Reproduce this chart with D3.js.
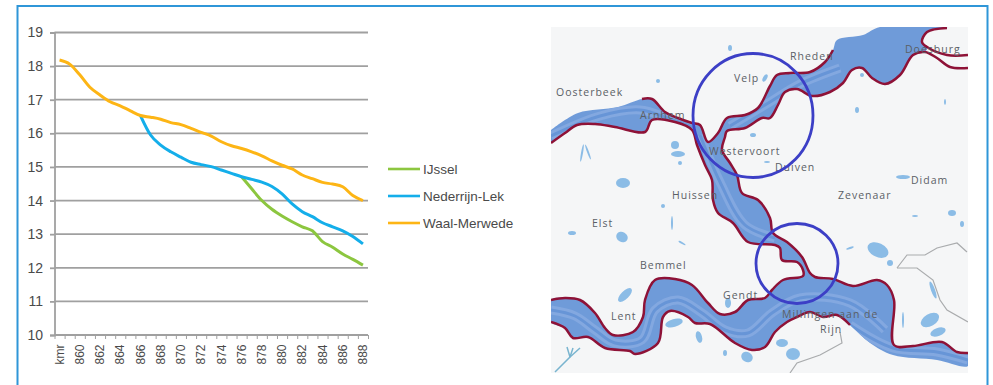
<!DOCTYPE html>
<html>
<head>
<meta charset="utf-8">
<script src="https://d3js.org/d3.v7.min.js"></script>
<style>
html, body { margin: 0; padding: 0; background: #fff; overflow: hidden; }
svg { display: block; }
</style>
</head>
<body>
<div id="chart"></div>
<script>
// Line chart values (one value per km from 858 = "kmr")
var kms = d3.range(858, 889);
var yTicks = [10, 11, 12, 13, 14, 15, 16, 17, 18, 19];
var seriesNames = ["IJssel", "Nederrijn-Lek", "Waal-Merwede"];
var seriesColors = ["#8cc63f", "#14aeea", "#fdb515"];

var waal = [18.18, 18.06, 17.74, 17.37, 17.14, 16.94, 16.82, 16.67, 16.53, 16.48, 16.42,
    16.32, 16.26, 16.15, 16.03, 15.92, 15.75, 15.63, 15.55, 15.45, 15.33, 15.18, 15.05,
    14.94, 14.76, 14.65, 14.54, 14.49, 14.41, 14.15, 14.0];
// starts at km 866
var lek = [16.53, 15.95, 15.65, 15.45, 15.29, 15.14, 15.07, 15.01, 14.91, 14.81, 14.71,
    14.63, 14.55, 14.42, 14.2, 13.9, 13.67, 13.52, 13.34, 13.22, 13.1, 12.93, 12.71];
// starts at km 876
var ijssel = [14.71, 14.35, 14.0, 13.74, 13.54, 13.37, 13.22, 13.1, 12.78, 12.61, 12.41, 12.25, 12.08];

// Map shapes in its own coordinates
var waterWest = [[551, 130], [578, 113], [618, 107]];
var dikeNorth = [[642, 99], [652, 99], [665, 112], [678, 118], [692, 123], [700, 125], [708, 142],
    [718, 133], [727, 118], [745, 115], [758, 108], [770, 86], [777, 75], [790, 73], [810, 72],
    [825, 62], [833, 50]];
var waterTop = [[837, 40], [863, 35], [880, 27], [947, 27]];
var dikeDoesburg = [[947, 28], [927, 32], [922, 42], [927, 47], [947, 55], [968, 55]];
var dikeSouth = [[968, 68], [950, 67], [937, 58], [925, 52], [913, 55], [900, 75], [885, 84], [872, 78],
    [862, 68], [852, 70], [843, 83], [830, 92], [812, 96], [797, 89], [785, 92], [778, 105], [770, 118],
    [762, 118], [745, 128], [727, 131], [725, 137], [722, 150], [730, 163], [737, 175], [742, 193],
    [758, 200], [770, 218], [773, 233], [787, 242], [802, 257], [810, 273], [815, 277], [833, 279],
    [853, 286], [877, 280], [887, 285], [894, 300], [894, 345], [913, 346], [942, 342], [957, 352], [968, 353]];
var waterSouth = [[968, 366], [937, 360], [893, 355], [870, 343]];
var dikeWaalSouth = [[850, 325], [837, 315], [823, 317], [810, 312], [797, 317], [787, 322], [775, 332],
    [765, 347], [752, 350], [735, 343], [710, 324], [695, 323], [688, 317], [670, 311], [663, 317],
    [658, 343], [635, 354], [630, 351], [605, 348], [588, 337], [573, 338], [565, 328], [551, 322]];
var dikeWaalNorth = [[551, 300], [565, 298], [580, 300], [595, 313], [605, 328], [613, 335], [633, 332],
    [643, 317], [645, 300], [655, 280], [675, 279], [692, 285], [708, 303], [720, 314], [735, 312],
    [748, 300], [765, 298], [772, 290], [783, 280], [803, 276], [803, 270], [797, 262], [782, 260],
    [780, 248], [775, 245], [748, 242], [733, 223], [718, 213], [713, 200], [712, 180], [705, 165],
    [697, 145], [692, 130], [675, 122], [652, 120], [645, 132], [615, 127], [595, 124], [577, 125],
    [565, 133], [551, 143]];

var bandWaal = [[551, 310], [575, 316], [595, 330], [615, 343], [642, 340], [655, 310], [678, 300],
    [702, 313], [725, 330], [748, 333], [772, 313], [800, 298], [850, 303], [885, 330]];
var bandNederrijn = [[551, 136], [600, 116], [640, 110], [670, 119], [695, 128]];
var bandCanal = [[700, 135], [720, 182], [745, 225], [775, 238]];
var bandRhine = [[730, 126], [770, 102], [800, 84], [840, 68]];
var bandEast = [[850, 325], [893, 348], [937, 352], [968, 360]];

var borders = [
    [[897, 268], [907, 255], [925, 255], [937, 248], [957, 243], [967, 252]],
    [[897, 268], [917, 268], [933, 280], [940, 300], [947, 310], [968, 322]],
    [[840, 332], [842, 343], [820, 355], [797, 363], [790, 373]]
];
var streams = [
    [[555, 372], [570, 357], [567, 347]],
    [[570, 357], [573, 348]],
    [[570, 357], [580, 348]]
];
// lakes: x, y, rx, ry, angle
var lakes = [[658, 81, 2, 2, 0], [730, 48, 2, 3, 0], [675, 145, 4, 4, 0], [678, 154, 7, 3, 0], [680, 163, 2, 2, 0],
    [623, 183, 7, 5, 0], [588, 152, 1, 8, -20], [582, 153, 1, 9, 10], [765, 78, 2, 4, 30], [753, 135, 3, 2, 0],
    [767, 162, 3, 1, 0], [857, 110, 2, 3, 0], [945, 102, 1, 3, 0], [862, 75, 2, 2, 0], [903, 177, 7, 2, 0],
    [622, 237, 6, 5, 30], [572, 233, 4, 2, 0], [625, 295, 9, 4, -45], [663, 206, 2, 2, 0], [672, 223, 1, 7, 0],
    [682, 243, 4, 1, 30], [674, 323, 9, 4, -15], [699, 337, 3, 6, -15], [725, 353, 2, 3, 0], [747, 357, 6, 5, 30],
    [728, 303, 3, 5, 0], [782, 343, 6, 4, 0], [793, 354, 7, 6, 0], [878, 250, 11, 7, 25], [890, 263, 3, 3, 0],
    [850, 248, 4, 1, -20], [952, 213, 4, 3, 0], [962, 224, 2, 3, 0], [915, 216, 3, 1, 0], [933, 290, 2, 9, -20],
    [930, 320, 10, 6, -30], [938, 332, 8, 4, -20], [903, 320, 1, 8, 0]];
var circles = [[753, 115.5, 60, 62], [797, 263.5, 41, 40]];

var placeNames = ["Oosterbeek", "Velp", "Rheden", "Doesburg", "Arnhem", "Westervoort", "Duiven", "Huissen",
    "Zevenaar", "Didam", "Elst", "Bemmel", "Lent", "Gendt", "Millingen aan de", "Rijn"];
var placeSpots = [[556, 92], [734, 78], [790, 56], [905, 49], [640, 115], [709, 151], [775, 167], [672, 195],
    [838, 195], [911, 180], [592, 223], [640, 265], [611, 316], [723, 295], [782, 314], [820, 329]];

var w = 993;
var h = 385;
var margin = { top: 32.5, right: 625, bottom: 50, left: 54.5 };
var width = w - margin.left - margin.right;
var height = h - margin.top - margin.bottom;

var svg = d3.select("#chart").append("svg").attr("width", w).attr("height", h);

// Blue frame, runs off the bottom of the picture
svg.append("rect")
    .attr("x", 17.5).attr("y", 6)
    .attr("width", 970).attr("height", 400)
    .attr("fill", "#fff")
    .attr("stroke", "#2f96d8")
    .attr("stroke-width", 2);

lineChart();
legend();
map();

function lineChart() {
    var g = svg.append("g").attr("transform", "translate(" + margin.left + "," + margin.top + ")");

    var xScale = d3.scaleBand().domain(kms).range([0, width]);
    var xEdges = d3.scaleLinear().domain([0, kms.length]).range([0, width]);
    var yScale = d3.scaleLinear().domain([10, 19]).range([height, 0]);

    // y axis, ticks run across as the grid lines
    var yAxis = g.append("g")
        .call(d3.axisLeft(yScale).tickValues(yTicks).tickSize(4.5).tickPadding(7));
    yAxis.selectAll("text")
        .style("font-family", "Liberation Sans")
        .style("font-size", "14px")
        .attr("fill", "#4a4a4a");
    yAxis.selectAll("line").attr("stroke", "#a0a0a0").attr("stroke-width", 1.8);
    yAxis.select(".domain").attr("stroke", "#a0a0a0").attr("stroke-width", 1.8);

    g.selectAll(".grid")
        .data(yTicks)
        .enter().append("line")
        .attr("class", "grid")
        .attr("x1", 0)
        .attr("x2", width)
        .attr("y1", function(d) { return yScale(d); })
        .attr("y2", function(d) { return yScale(d); })
        .attr("stroke", "#a0a0a0")
        .attr("stroke-width", 1.8);

    // x tick marks sit on the edges of the bands
    g.append("g")
        .attr("transform", "translate(0," + height + ")")
        .call(d3.axisBottom(xEdges).tickValues(d3.range(0, kms.length + 1)).tickSize(4).tickFormat(""))
        .call(function(a) {
            a.select(".domain").remove();
            a.selectAll("line").attr("stroke", "#a0a0a0");
        });

    var xAxis = g.append("g")
        .attr("transform", "translate(0," + height + ")")
        .call(d3.axisBottom(xScale)
            .tickValues(kms.filter(function(d) { return d % 2 === 0; }))
            .tickSize(0)
            .tickFormat(function(d) { return d === 858 ? "kmr" : d; }));
    xAxis.select(".domain").remove();
    xAxis.selectAll("text")
        .attr("transform", "rotate(-90)")
        .attr("text-anchor", "end")
        .attr("x", -9.5)
        .attr("y", 0)
        .attr("dy", "0.35em")
        .style("font-family", "Liberation Sans")
        .style("font-size", "12px")
        .attr("fill", "#4a4a4a");

    var line = d3.line()
        .x(function(d) { return xScale(d.km) + xScale.bandwidth() / 2; })
        .y(function(d) { return yScale(d.v); })
        .curve(d3.curveMonotoneX);

    [ijssel, lek, waal].forEach(function(values, i) {
        var first = kms.length - values.length;
        var points = values.map(function(v, j) { return { km: kms[first + j], v: v }; });
        g.append("path")
            .datum(points)
            .attr("d", line)
            .attr("fill", "none")
            .attr("stroke", seriesColors[i])
            .attr("stroke-width", 3)
            .attr("stroke-linejoin", "round");
    });
}

function legend() {
    var y = d3.scalePoint().domain(seriesNames).range([169, 223]);
    var items = svg.selectAll(".legend")
        .data(seriesNames)
        .enter().append("g")
        .attr("class", "legend")
        .attr("transform", function(d) { return "translate(388," + y(d) + ")"; });
    items.append("line")
        .attr("x2", 32)
        .attr("stroke", function(d, i) { return seriesColors[i]; })
        .attr("stroke-width", 2.6);
    items.append("text")
        .attr("x", 35)
        .attr("dy", "0.35em")
        .text(function(d) { return d; })
        .style("font-family", "Liberation Sans")
        .style("font-size", "13.5px")
        .attr("fill", "#4a4a4a");
}

function map() {
    // map coordinates are those of the traced picture
    var mx = d3.scaleLinear().domain([551, 968]).range([551, 968]);
    var my = d3.scaleLinear().domain([27, 373]).range([27, 373]);
    var path = d3.line()
        .x(function(d) { return mx(d[0]); })
        .y(function(d) { return my(d[1]); })
        .curve(d3.curveCatmullRom.alpha(0.5));
    var straight = d3.line()
        .x(function(d) { return mx(d[0]); })
        .y(function(d) { return my(d[1]); });

    var defs = svg.append("defs");
    defs.append("clipPath").attr("id", "panel")
        .append("rect")
        .attr("x", mx(551)).attr("y", my(27))
        .attr("width", mx(968) - mx(551)).attr("height", my(373) - my(27));

    var water = [].concat(waterWest, dikeNorth, waterTop, dikeDoesburg.slice(0, 4), dikeSouth.slice(3),
        waterSouth, dikeWaalSouth, dikeWaalNorth);
    defs.append("clipPath").attr("id", "water")
        .append("path").attr("d", path(water) + "Z");

    var g = svg.append("g").attr("clip-path", "url(#panel)");

    g.append("rect")
        .attr("x", mx(551)).attr("y", my(27))
        .attr("width", mx(968) - mx(551)).attr("height", my(373) - my(27))
        .attr("fill", "#f5f6f7");

    g.selectAll(".lake")
        .data(lakes)
        .enter().append("ellipse")
        .attr("class", "lake")
        .attr("cx", function(d) { return mx(d[0]); })
        .attr("cy", function(d) { return my(d[1]); })
        .attr("rx", function(d) { return d[2]; })
        .attr("ry", function(d) { return d[3]; })
        .attr("transform", function(d) { return "rotate(" + d[4] + " " + mx(d[0]) + " " + my(d[1]) + ")"; })
        .attr("fill", "#8bbce6");

    g.selectAll(".stream")
        .data(streams)
        .enter().append("path")
        .attr("d", straight)
        .attr("fill", "none")
        .attr("stroke", "#79b4cf")
        .attr("stroke-width", 1.5);

    g.selectAll(".border")
        .data(borders)
        .enter().append("path")
        .attr("d", straight)
        .attr("fill", "none")
        .attr("stroke", "#a9abad")
        .attr("stroke-width", 1.2);

    g.append("path")
        .attr("d", path(water) + "Z")
        .attr("fill", "#6f9bd9");

    var bands = g.append("g").attr("clip-path", "url(#water)");
    [bandWaal, bandNederrijn, bandCanal, bandRhine, bandEast].forEach(function(b) {
        bands.append("path").attr("d", path(b)).attr("fill", "none")
            .attr("stroke", "#83a8e0").attr("stroke-width", 9);
        bands.append("path").attr("d", path(b)).attr("fill", "none")
            .attr("stroke", "#6795d7").attr("stroke-width", 3);
    });

    g.selectAll(".dike")
        .data([dikeNorth, dikeDoesburg, dikeSouth, dikeWaalSouth, dikeWaalNorth])
        .enter().append("path")
        .attr("d", path)
        .attr("fill", "none")
        .attr("stroke", "#8e1237")
        .attr("stroke-width", 2.5)
        .attr("stroke-linejoin", "round");

    g.selectAll(".place")
        .data(placeNames)
        .enter().append("text")
        .attr("x", function(d, i) { return mx(placeSpots[i][0]); })
        .attr("y", function(d, i) { return my(placeSpots[i][1]); })
        .attr("dy", "0.35em")
        .text(function(d) { return d; })
        .style("font-family", "Open Sans")
        .style("font-size", "10.5px")
        .style("letter-spacing", "1px")
        .attr("fill", "#5b5f66");

    g.selectAll(".circle")
        .data(circles)
        .enter().append("ellipse")
        .attr("cx", function(d) { return mx(d[0]); })
        .attr("cy", function(d) { return my(d[1]); })
        .attr("rx", function(d) { return d[2]; })
        .attr("ry", function(d) { return d[3]; })
        .attr("fill", "none")
        .attr("stroke", "#3c3fc6")
        .attr("stroke-width", 2.8);
}
</script>
</body>
</html>
